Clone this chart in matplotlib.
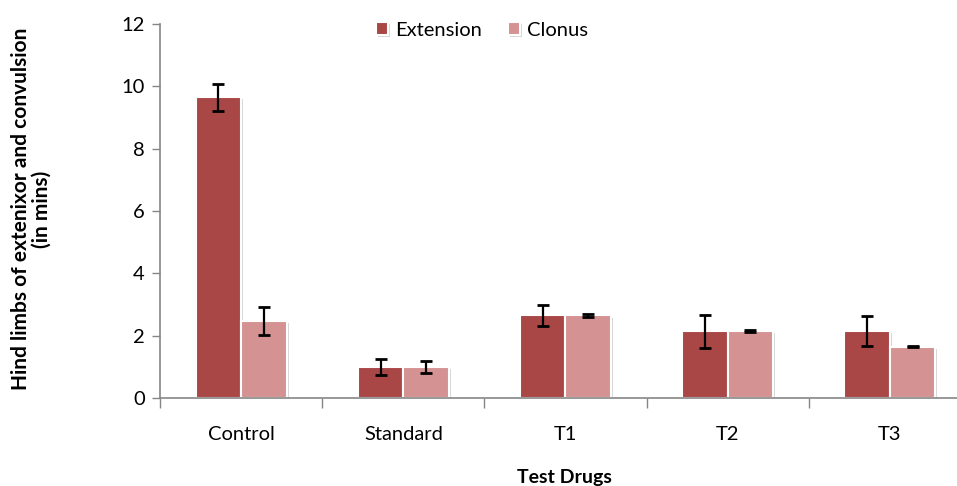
import matplotlib
matplotlib.use("Agg")
import matplotlib.pyplot as plt
import matplotlib.patheffects as pe
import numpy as np

# Data
groups = ["Control", "Standard", "T1", "T2", "T3"]
extension = [9.65, 1.0, 2.65, 2.15, 2.15]
extension_err = [0.43, 0.25, 0.35, 0.53, 0.48]
clonus = [2.47, 1.0, 2.65, 2.15, 1.65]
clonus_err = [0.44, 0.19, 0.04, 0.02, 0.02]

plt.rcParams['font.family'] = ['Lato', 'DejaVu Sans']

fig = plt.figure(figsize=(9.57, 4.86), dpi=100)
ax = fig.add_axes([0.1672, 0.181, 0.8474, 0.7696])

x = np.arange(len(groups))
w = 0.28
shadow = [pe.SimplePatchShadow(offset=(1.5, -1.5), shadow_rgbFace='#b0b0b0', alpha=0.5), pe.Normal()]

b1 = ax.bar(x - w / 2, extension, w, color='#a94747', edgecolor='white', linewidth=1.5,
            label='Extension', zorder=2)
b2 = ax.bar(x + w / 2, clonus, w, color='#d49292', edgecolor='white', linewidth=1.5,
            label='Clonus', zorder=2)
for b in list(b1) + list(b2):
    b.set_path_effects(shadow)

ax.errorbar(x - w / 2, extension, yerr=extension_err, fmt='none', ecolor='black',
            elinewidth=1.6, capsize=4.5, capthick=2, zorder=3)
ax.errorbar(x + w / 2, clonus, yerr=clonus_err, fmt='none', ecolor='black',
            elinewidth=1.6, capsize=4.5, capthick=2, zorder=3)

ax.set_xlim(-0.5, len(groups) - 0.5)
ax.set_ylim(0, 12)
ax.set_yticks(range(0, 13, 2))

ax.set_xticks(x)
ax.set_xticklabels(groups, fontsize=14.5)
ax.set_xticks(np.arange(-0.5, len(groups), 1), minor=True)
ax.tick_params(axis='x', which='major', length=0, pad=20)
ax.tick_params(axis='x', which='minor', length=7, color='#868686', width=1)
ax.tick_params(axis='y', length=6, color='#868686', width=1, labelsize=14.5, pad=5)

for s in ['top', 'right']:
    ax.spines[s].set_visible(False)
for s in ['left', 'bottom']:
    ax.spines[s].set_color('#868686')
    ax.spines[s].set_linewidth(1.2)

ax.set_ylabel('Hind limbs of extenixor and convulsion\n(in mins)', fontsize=15,
              fontweight='bold', linespacing=1.0)
ax.yaxis.set_label_coords(-0.134, 0.505)
fig.text(0.59, 0.0, 'Test Drugs', fontsize=14, fontweight='bold', ha='center', va='bottom')

ax.legend(loc='upper center', bbox_to_anchor=(0.397, 1.055), ncol=2, frameon=False,
          fontsize=14.5, handlelength=0.6, handleheight=0.6, handletextpad=0.35,
          columnspacing=1.3)

fig.savefig('out.png', dpi=100)
